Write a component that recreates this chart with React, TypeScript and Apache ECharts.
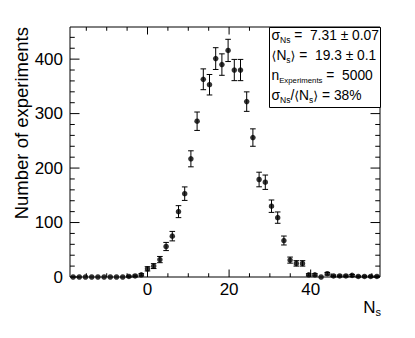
import React, { useEffect, useRef } from "react";
import * as echarts from "echarts";

// Histogram bin centres (N_s), 50 bins from -19 to 57
const binCenters = [
  -18.24, -16.72, -15.2, -13.68, -12.16, -10.64, -9.12, -7.6, -6.08, -4.56,
  -3.04, -1.52, 0, 1.52, 3.04, 4.56, 6.08, 7.6, 9.12, 10.64,
  12.16, 13.68, 15.2, 16.72, 18.24, 19.76, 21.28, 22.8, 24.32, 25.84,
  27.36, 28.88, 30.4, 31.92, 33.44, 34.96, 36.48, 38, 39.52, 41.04,
  42.56, 44.08, 45.6, 47.12, 48.64, 50.16, 51.68, 53.2, 54.72, 56.24,
];
// Number of experiments per bin
const counts = [
  0, 0, 0, 0, 0, 0, 0, 0, 0, 1,
  2, 4, 15, 20, 32, 56, 75, 120, 153, 217,
  286, 363, 353, 401, 390, 416, 380, 380, 322, 256,
  179, 174, 130, 109, 67, 31, 25, 25, 4, 4,
  0, 6, 2, 2, 2, 3, 1, 1, 1, 1,
];
// Error bar half-lengths
const errors = [
  0, 0, 0, 0, 0, 0, 0, 0, 0, 1,
  1.4, 2, 3.9, 4.5, 5.7, 7.5, 8.7, 11, 12.4, 14.7,
  16.9, 19.1, 18.8, 20, 19.7, 20.4, 19.5, 19.5, 17.9, 16,
  13.4, 13.2, 11.4, 10.4, 8.2, 5.6, 5, 5, 2, 2,
  0, 2.4, 1.4, 1.4, 1.4, 1.7, 1, 1, 1, 1,
];

const xLabelValues = [0, 20, 40];
const xMajorTicks = [0, 20, 40];
const xMinorTicks = [-15, -10, -5, 5, 10, 15, 25, 30, 35, 45, 50, 55];
const yLabelValues = [0, 100, 200, 300, 400];
const yMajorTicks = [0, 100, 200, 300, 400];
const yMinorTicks = [
  20, 40, 60, 80, 120, 140, 160, 180, 220, 240, 260, 280, 320, 340, 360, 380,
  420, 440,
];

const X_MIN = -19;
const X_MAX = 57;
const Y_MIN = 0;
const Y_MAX = 459;

const FONT = "'Liberation Sans', Arial, Helvetica, sans-serif";
const SYM_FONT = "'DejaVu Sans', 'Liberation Sans', sans-serif";

export default function App() {
  const ref = useRef<HTMLDivElement>(null);

  useEffect(() => {
    if (!ref.current) return;
    const chart = echarts.init(ref.current, undefined, { renderer: "svg" });

    const points = binCenters.map((x, i) => [x, counts[i], errors[i]]);
    const xTickData = [
      ...xMajorTicks.map((v) => [v, 1]),
      ...xMinorTicks.map((v) => [v, 0]),
    ];
    const yTickData = [
      ...yMajorTicks.map((v) => [1, v]),
      ...yMinorTicks.map((v) => [0, v]),
    ];

    const black = "#000";
    const subStyle = {
      fontSize: 8.5,
      fontFamily: FONT,
      color: black,
      verticalAlign: "bottom",
    };
    const mainStyle = {
      fontSize: 13.8,
      fontFamily: FONT,
      color: black,
      lineHeight: 17,
    };
    const statsRich = {
      g: mainStyle,
      b: { ...mainStyle, fontFamily: SYM_FONT, fontSize: 12.5 },
      sub: subStyle,
      sube: { ...subStyle, fontSize: 7.8 },
    };

    const statLines = [
      "{g|σ}{sub|Ns}{g| =  7.31 ± 0.07}",
      "{b|⟨}{g|N}{sub|s}{b|⟩}{g| =  19.3 ± 0.1}",
      "{g|n}{sube|Experiments}{g| =  5000}",
      "{g|σ}{sub|Ns}{g|/}{b|⟨}{g|N}{sub|s}{b|⟩}{g| = 38%}",
    ];
    const statY = [35.5, 55.5, 75.5, 95.5];

    chart.setOption({
      animation: false,
      backgroundColor: "#fff",
      grid: {
        left: 70,
        top: 27,
        width: 310,
        height: 250,
        show: true,
        borderColor: black,
        borderWidth: 1,
        backgroundColor: "transparent",
      },
      xAxis: {
        type: "value",
        min: X_MIN,
        max: X_MAX,
        axisLine: { show: false },
        axisTick: { show: false },
        splitLine: { show: false },
        axisLabel: {
          customValues: xLabelValues,
          formatter: (v: number) => (xLabelValues.includes(v) ? String(v) : ""),
          color: black,
          fontSize: 17,
          fontFamily: FONT,
          margin: 4,
        },
      },
      yAxis: {
        type: "value",
        min: Y_MIN,
        max: Y_MAX,
        axisLine: { show: false },
        axisTick: { show: false },
        splitLine: { show: false },
        axisLabel: {
          customValues: yLabelValues,
          formatter: (v: number) => (yLabelValues.includes(v) ? String(v) : ""),
          color: black,
          fontSize: 17,
          fontFamily: FONT,
          margin: 7,
        },
      },
      series: [
        {
          type: "custom",
          name: "xticks",
          data: xTickData,
          encode: { x: 0, y: 1 },
          clip: false,
          silent: true,
          renderItem: (params: any, api: any) => {
            const v = api.value(0);
            const major = api.value(1) === 1;
            const L = major ? 7.5 : 3.75;
            const b = api.coord([v, Y_MIN]);
            const t = api.coord([v, Y_MAX]);
            const st = { stroke: black, lineWidth: 1 };
            return {
              type: "group",
              children: [
                { type: "line", shape: { x1: b[0], y1: b[1], x2: b[0], y2: b[1] - L }, style: st },
                { type: "line", shape: { x1: t[0], y1: t[1], x2: t[0], y2: t[1] + L }, style: st },
              ],
            };
          },
        },
        {
          type: "custom",
          name: "yticks",
          data: yTickData,
          encode: { x: 0, y: 1 },
          clip: false,
          silent: true,
          renderItem: (params: any, api: any) => {
            const major = api.value(0) === 1;
            const v = api.value(1);
            const L = major ? 9.5 : 4.75;
            const l = api.coord([X_MIN, v]);
            const r = api.coord([X_MAX, v]);
            const st = { stroke: black, lineWidth: 1 };
            return {
              type: "group",
              children: [
                { type: "line", shape: { x1: l[0], y1: l[1], x2: l[0] + L, y2: l[1] }, style: st },
                { type: "line", shape: { x1: r[0], y1: r[1], x2: r[0] - L, y2: r[1] }, style: st },
              ],
            };
          },
        },
        {
          type: "custom",
          name: "errors",
          data: points,
          encode: { x: 0, y: 1 },
          clip: false,
          silent: true,
          renderItem: (params: any, api: any) => {
            const x = api.value(0);
            const y = api.value(1);
            const e = api.value(2);
            if (!(e > 0)) return { type: "group", children: [] };
            const top = api.coord([x, y + e]);
            const bot = api.coord([x, y - e]);
            const c = 2.8;
            const st = { stroke: black, lineWidth: 1 };
            return {
              type: "group",
              children: [
                { type: "line", shape: { x1: top[0], y1: top[1], x2: bot[0], y2: bot[1] }, style: st },
                { type: "line", shape: { x1: top[0] - c, y1: top[1], x2: top[0] + c, y2: top[1] }, style: st },
                { type: "line", shape: { x1: bot[0] - c, y1: bot[1], x2: bot[0] + c, y2: bot[1] }, style: st },
              ],
            };
          },
        },
        {
          type: "scatter",
          name: "counts",
          data: points.map((p) => [p[0], p[1]]),
          symbol: "circle",
          symbolSize: 5.5,
          itemStyle: { color: black },
          clip: false,
          silent: true,
        },
      ],
      graphic: [
        {
          type: "text",
          x: 21,
          y: 27,
          rotation: Math.PI / 2,
          style: {
            text: "Number of experiments",
            fontSize: 18.5,
            fontFamily: FONT,
            fill: black,
            align: "right",
            textAlign: "right",
            verticalAlign: "middle",
            textVerticalAlign: "middle",
          },
        },
        {
          type: "text",
          x: 381,
          y: 307,
          style: {
            text: "{n|N}{s|s}",
            align: "right",
            textAlign: "right",
            verticalAlign: "middle",
            textVerticalAlign: "middle",
            rich: {
              n: { fontSize: 17, fontFamily: FONT, color: black, lineHeight: 20 },
              s: { fontSize: 11, fontFamily: FONT, color: black, verticalAlign: "bottom" },
            },
          },
        },
        {
          type: "rect",
          shape: { x: 269.5, y: 27.5, width: 111, height: 80 },
          style: { fill: "#fff", stroke: black, lineWidth: 1 },
          z: 100,
        },
        ...statLines.map((t, i) => ({
          type: "text",
          x: 271.5,
          y: statY[i],
          z: 101,
          style: {
            text: t,
            rich: statsRich,
            align: "left",
            textAlign: "left",
            verticalAlign: "middle",
            textVerticalAlign: "middle",
          },
        })),
      ],
    });

    return () => chart.dispose();
  }, []);

  return (
    <div
      ref={ref}
      style={{ position: "fixed", left: 0, top: 0, width: 415, height: 338, background: "#fff" }}
    />
  );
}
